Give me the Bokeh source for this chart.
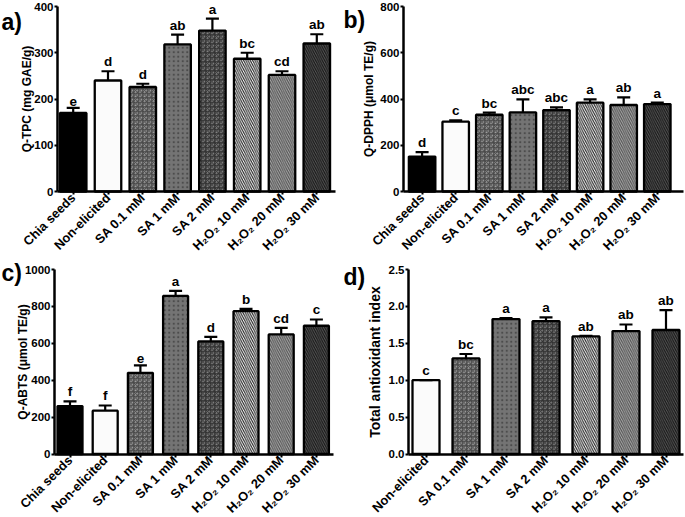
import math
from bokeh.plotting import figure
from bokeh.layouts import gridplot
from bokeh.models import (ColumnDataSource, FixedTicker, Range1d, Label, LabelSet,
                          Whisker, TeeHead, NumeralTickFormatter)
from bokeh.core.properties import value
from bokeh.embed import file_html
from bokeh.resources import INLINE

FONT = "Liberation Sans"

# ---------------- data ----------------
categories = ["Chia seeds", "Non-elicited", "SA 0.1 mM", "SA 1 mM", "SA 2 mM",
              "H\u2082O\u2082 10 mM", "H\u2082O\u2082 20 mM", "H\u2082O\u2082 30 mM"]

tpc = [170, 240, 226, 318, 348, 287, 252, 320]
tpc_err = [11, 20, 7, 21, 26, 13, 8, 20]
tpc_letters = ["e", "d", "d", "ab", "a", "bc", "cd", "ab"]

dpph = [151, 302, 332, 342, 352, 384, 374, 378]
dpph_err = [19, 6, 9, 56, 12, 14, 33, 6]
dpph_letters = ["d", "c", "bc", "abc", "abc", "a", "ab", "a"]

abts = [260, 235, 440, 857, 610, 774, 648, 695]
abts_err = [25, 28, 40, 27, 25, 13, 36, 34]
abts_letters = ["f", "f", "e", "a", "d", "b", "cd", "c"]

tai_categories = categories[1:]
tai = [1.00, 1.295, 1.828, 1.80, 1.593, 1.665, 1.68]
tai_err = [0.0, 0.06, 0.012, 0.05, 0.007, 0.09, 0.27]
tai_letters = ["c", "bc", "a", "a", "ab", "ab", "ab"]

tpc_ticks = [0, 100, 200, 300, 400]
dpph_ticks = [0, 200, 400, 600, 800]
abts_ticks = [0, 200, 400, 600, 800, 1000]
tai_ticks = [0.0, 0.5, 1.0, 1.5, 2.0, 2.5]

# ---------------- styles (per category) ----------------
STYLE = {
    "Chia seeds":   dict(fill="#000000", hatch=" ",                  hcol="#000000"),
    "Non-elicited": dict(fill="#fbfbfb", hatch=" ",                  hcol="#ffffff"),
    "SA 0.1 mM":    dict(fill="#a6a6a6", hatch="criss_cross",        hcol="#4a4a4a"),
    "SA 1 mM":      dict(fill="#747474", hatch="dot",                hcol="#4c4c4c"),
    "SA 2 mM":      dict(fill="#8a8a8a", hatch="criss_cross",        hcol="#333333"),
    "H\u2082O\u2082 10 mM": dict(fill="#ffffff", hatch="left_diagonal_line", hcol="#202020"),
    "H\u2082O\u2082 20 mM": dict(fill="#adadad", hatch="left_diagonal_line", hcol="#505050"),
    "H\u2082O\u2082 30 mM": dict(fill="#585858", hatch="left_diagonal_line", hcol="#151515"),
}


def make_panel(cats, vals, errs, letters, ticks, ylabel, tag, geom,
               ylabel_size="13px", label_standoff=2, tag_top=6, fmt=None):
    # geom: figure size and pixel layout of the axes inside the figure
    W, H, ax_left, ax_right, c0, step, t_px, z_px, bar_px = geom
    n = len(cats)
    xs = list(range(n))
    ytop = ticks[-1]
    yppu = (z_px - t_px) / ytop
    src = ColumnDataSource(dict(
        x=xs, top=vals, upper=[v + e for v, e in zip(vals, errs)], letter=letters,
        fill=[STYLE[c]["fill"] for c in cats],
        hatch=[STYLE[c]["hatch"] for c in cats],
        hcol=[STYLE[c]["hcol"] for c in cats],
    ))
    x_range = Range1d(-c0 / step, (W - c0) / step)
    y_range = Range1d(-(H - z_px) / yppu, ytop + t_px / yppu)
    p = figure(width=W, height=H, x_range=x_range, y_range=y_range,
               output_backend="svg", toolbar_location=None, min_border=0,
               min_border_left=0, min_border_right=0, min_border_top=0,
               min_border_bottom=0)
    p.outline_line_color = None
    p.grid.visible = False
    p.background_fill_color = "white"
    p.border_fill_color = "white"

    p.vbar(x="x", top="top", bottom=0, width=bar_px / step, source=src,
           fill_color="fill", line_color="black", line_width=2.3,
           hatch_pattern="hatch", hatch_color="hcol", hatch_scale=4.5,
           hatch_weight=1.1)

    w = Whisker(base="x", upper="upper", lower="top", source=src,
                line_color="black", line_width=2.2,
                upper_head=TeeHead(size=13, line_width=2.2, line_color="black"),
                lower_head=None, level="overlay")
    p.add_layout(w)

    ls = LabelSet(x="x", y="upper", text="letter", source=src, text_align="center",
                  text_baseline="bottom", y_offset=2, text_font=value(FONT),
                  text_font_style="bold", text_font_size="13.5px", text_color="black")
    p.add_layout(ls)

    p.add_layout(Label(x=1, y=H - tag_top, x_units="screen", y_units="screen", text=tag,
                       text_font=FONT, text_font_style="bold", text_font_size="23px",
                       text_color="black", text_baseline="top", text_align="left"))

    bx0 = (ax_left - c0) / step
    bx1 = (ax_right - c0) / step

    for ax in (p.xaxis[0], p.yaxis[0]):
        ax.axis_line_width = 2.5
        ax.axis_line_color = "black"
        ax.major_tick_line_width = 2
        ax.major_tick_line_color = "black"
        ax.major_tick_in = 0
        ax.major_tick_out = 4
        ax.minor_tick_out = 0
        ax.minor_tick_in = 0
        ax.major_label_text_font = FONT
        ax.major_label_text_font_style = "bold"
        ax.major_label_text_color = "black"

    xa = p.xaxis[0]
    xa.fixed_location = 0
    xa.bounds = (bx0, bx1)
    xa.ticker = FixedTicker(ticks=xs)
    xa.major_label_overrides = {i: c for i, c in enumerate(cats)}
    xa.major_label_orientation = math.pi / 4
    xa.major_label_text_font_size = "12.8px"
    xa.major_tick_out = 3
    xa.major_label_standoff = 1

    ya = p.yaxis[0]
    ya.fixed_location = bx0
    ya.bounds = (0, ytop)
    ya.ticker = FixedTicker(ticks=ticks)
    ya.major_tick_out = 3
    ya.major_label_text_font_size = "11.5px"
    ya.major_label_standoff = 1
    if fmt:
        ya.formatter = NumeralTickFormatter(format=fmt)
    ya.axis_label = ylabel
    ya.axis_label_text_font = FONT
    ya.axis_label_text_font_style = "bold"
    ya.axis_label_text_font_size = ylabel_size
    ya.axis_label_text_color = "black"
    ya.axis_label_standoff = label_standoff
    return p


# (W, H, axis_left, axis_right, first_center, step, top_px, zero_px, bar_px)
pa = make_panel(categories, tpc, tpc_err, tpc_letters, tpc_ticks,
                "Q-TPC (mg GAE/g)", "a)",
                (342, 258, 57, 335, 72.7, 34.8, 6, 191, 26.5),
                ylabel_size="12px", label_standoff=-3, tag_top=8)
pb = make_panel(categories, dpph, dpph_err, dpph_letters, dpph_ticks,
                "Q-DPPH (\u03bcmol TE/g)", "b)",
                (343, 258, 61, 341, 79.6, 33.6, 6, 191, 26.5),
                ylabel_size="12px", label_standoff=1, tag_top=6)
pc = make_panel(categories, abts, abts_err, abts_letters, abts_ticks,
                "Q-ABTS (\u03bcmol TE/g)", "c)",
                (342, 259, 54, 333, 69.5, 35.2, 11, 195.5, 25),
                ylabel_size="12px", label_standoff=-8, tag_top=1)
pd = make_panel(tai_categories, tai, tai_err, tai_letters, tai_ticks,
                "Total antioxidant index", "d)",
                (343, 259, 66, 341, 83.5, 40, 11, 195.5, 27),
                ylabel_size="14px", label_standoff=3, tag_top=5, fmt="0.0")

grid = gridplot([[pa, pb], [pc, pd]], toolbar_location=None)

open("out.html", "w").write(file_html(grid, INLINE))
